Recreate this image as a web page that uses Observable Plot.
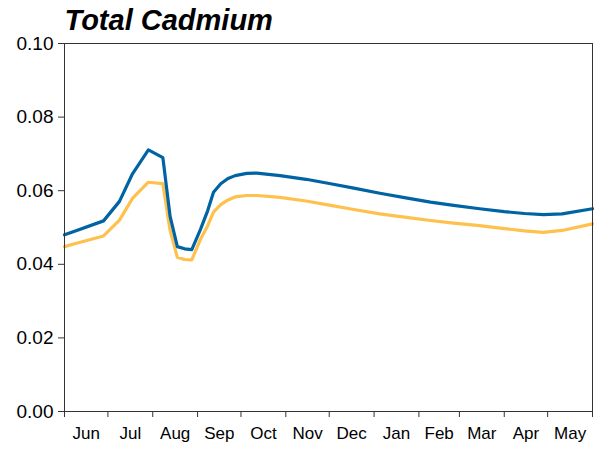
<!DOCTYPE html>
<html>
<head>
<meta charset="utf-8">
<script src="https://cdn.jsdelivr.net/npm/d3@7"></script>
<script src="https://cdn.jsdelivr.net/npm/@observablehq/plot@0.6"></script>
<style>
  html, body { margin: 0; padding: 0; background: #fff; }
</style>
</head>
<body>
<div id="chart"></div>
<script>
const title = "Total Cadmium";

const dates = [
  "2021-06-01","2021-06-08","2021-06-28","2021-07-09","2021-07-18","2021-07-29",
  "2021-08-08","2021-08-13","2021-08-18","2021-08-23","2021-08-28","2021-09-03",
  "2021-09-08","2021-09-12","2021-09-17","2021-09-22","2021-09-27","2021-10-05",
  "2021-10-12","2021-10-28","2021-11-15","2021-12-02","2021-12-18","2022-01-05",
  "2022-01-22","2022-02-09","2022-02-25","2022-03-15","2022-04-01","2022-04-15",
  "2022-04-28","2022-05-11","2022-06-01"
];

const seriesBlue = [
  0.0480,0.0490,0.0518,0.0571,0.0646,0.0711,
  0.0690,0.0530,0.0448,0.0442,0.0440,0.0495,
  0.0546,0.0596,0.0619,0.0633,0.0641,0.0647,
  0.0648,0.0641,0.0631,0.0619,0.0607,0.0593,
  0.0581,0.0569,0.0560,0.0551,0.0543,0.0538,
  0.0535,0.0537,0.0551
];

const seriesYellow = [
  0.0448,0.0456,0.0477,0.0520,0.0579,0.0623,
  0.0619,0.0492,0.0419,0.0413,0.0412,0.0468,
  0.0505,0.0542,0.0562,0.0575,0.0583,0.0587,
  0.0587,0.0582,0.0572,0.0560,0.0549,0.0537,
  0.0528,0.0519,0.0512,0.0505,0.0497,0.0491,
  0.0487,0.0492,0.0510
];

const yTicks = [0, 0.02, 0.04, 0.06, 0.08, 0.10];
const monthLabels = ["Jun","Jul","Aug","Sep","Oct","Nov","Dec","Jan","Feb","Mar","Apr","May"];
const monthStartStrings = [
  "2021-06-01","2021-07-01","2021-08-01","2021-09-01","2021-10-01","2021-11-01",
  "2021-12-01","2022-01-01","2022-02-01","2022-03-01","2022-04-01","2022-05-01","2022-06-01"
];

const parse = d3.utcParse("%Y-%m-%d");
const monthStarts = monthStartStrings.map(parse);
const monthMids = monthLabels.map((m, i) => new Date((+monthStarts[i] + +monthStarts[i + 1]) / 2));

const rows = dates.map((d, i) => ({date: parse(d), blue: seriesBlue[i], yellow: seriesYellow[i]}));

const chart = Plot.plot({
  width: 594,
  height: 449,
  marginLeft: 64,
  marginRight: 2,
  marginTop: 43,
  marginBottom: 38,
  style: {fontFamily: "'Liberation Sans', Arial, sans-serif", background: "#fff", color: "#000", overflow: "visible"},
  x: {type: "utc", domain: [monthStarts[0], monthStarts[monthStarts.length - 1]]},
  y: {domain: [0, 0.1]},
  marks: [
    Plot.lineY(rows, {x: "date", y: "yellow", stroke: "#fec14e", strokeWidth: 3.2}),
    Plot.lineY(rows, {x: "date", y: "blue", stroke: "#0063a3", strokeWidth: 3.2}),
    Plot.frame({stroke: "#333"}),
    Plot.axisY({ticks: yTicks, tickFormat: d3.format(".2f"), tickSize: 6, tickPadding: 5, fontSize: 19, label: null, stroke: "#333"}),
    Plot.axisX({ticks: monthStarts, tickFormat: () => "", tickSize: 6, label: null, stroke: "#333"}),
    Plot.axisX({ticks: monthMids, tickFormat: d => monthLabels[monthMids.findIndex(m => +m === +d)], tickSize: 0, tickPadding: 15, fontSize: 17, label: null}),
    Plot.text([title], {frameAnchor: "top-left", text: d => d, dx: 0, dy: -14, lineAnchor: "bottom", textAnchor: "start", fontSize: 29, fontWeight: "bold", fontStyle: "italic", fill: "#000"})
  ]
});

document.getElementById("chart").appendChild(chart);
</script>
</body>
</html>
